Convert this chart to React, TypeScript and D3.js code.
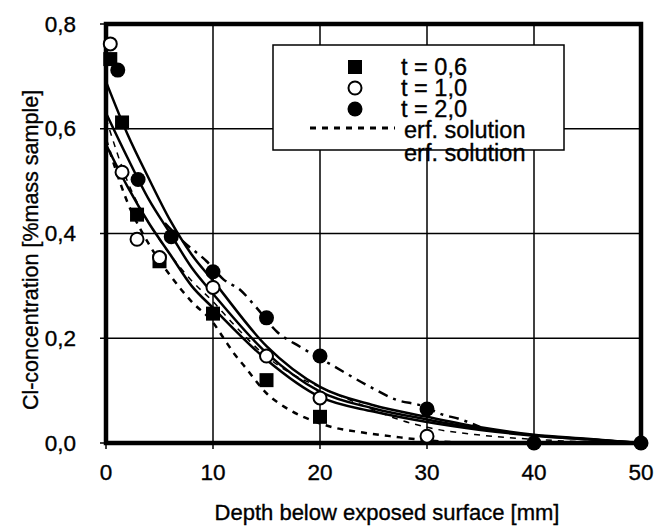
import React from "react";
import * as d3 from "d3";

// ---- data ----
const squares: [number, number][] = [
  [0.4, 0.733], [1.5, 0.612], [2.9, 0.436], [5, 0.347], [10, 0.247], [15, 0.12], [20, 0.05],
];
const openCircles: [number, number][] = [
  [0.4, 0.762], [1.5, 0.517], [2.9, 0.389], [5, 0.354], [10, 0.297], [15, 0.166], [20, 0.086], [30, 0.013],
];
const filledCircles: [number, number][] = [
  [1.1, 0.712], [3, 0.503], [6.1, 0.394], [10, 0.327], [15, 0.239], [20, 0.166], [30, 0.065], [40, 0], [50, 0],
];

// solid fitted curves
const solidTop: [number, number][] = [
  [0, 0.69], [2, 0.59], [4, 0.505], [6, 0.425], [8, 0.36], [10, 0.31], [15, 0.185], [20, 0.107],
  [25, 0.072], [30, 0.05], [35, 0.03], [40, 0.016], [45, 0.008], [50, 0],
];
const solidMid: [number, number][] = [
  [0, 0.63], [2, 0.545], [4, 0.465], [6, 0.4], [8, 0.335], [10, 0.285], [15, 0.172], [20, 0.098],
  [25, 0.066], [30, 0.045], [35, 0.027], [40, 0.015], [45, 0.007], [50, 0],
];
const solidLow: [number, number][] = [
  [0, 0.57], [2, 0.49], [4, 0.42], [6, 0.36], [8, 0.3], [10, 0.258], [15, 0.159], [20, 0.088],
  [25, 0.06], [30, 0.04], [35, 0.025], [40, 0.014], [45, 0.007], [50, 0],
];

// dashed erf solutions
const erfLow: [number, number][] = [
  [0, 0.58], [2, 0.46], [4, 0.38], [6, 0.32], [8, 0.27], [10, 0.23], [11, 0.2], [12, 0.17],
  [13, 0.145], [15, 0.095], [17, 0.065], [19, 0.045], [21, 0.031], [24, 0.02], [27, 0.012],
  [30, 0.005], [33, 0.001], [36, 0], [45, 0],
];
const erfHigh: [number, number][] = [
  [5.5, 0.42], [7.2, 0.385], [9.4, 0.347], [11, 0.312], [12.5, 0.293], [14, 0.26], [16, 0.212],
  [18.2, 0.183], [21, 0.15], [24.7, 0.107], [27.2, 0.082], [29.4, 0.072], [31.5, 0.054], [33, 0.046], [35, 0.03],
];
const erfMid: [number, number][] = [
  [0, 0.62], [2, 0.5], [4, 0.42], [6, 0.36], [8, 0.31], [10, 0.27], [12, 0.225], [15, 0.165],
  [17.2, 0.134], [20.3, 0.104], [23.5, 0.076], [27.5, 0.044], [30, 0.03], [35, 0.015], [40, 0.007], [45, 0.002],
];

const xTicks = [0, 10, 20, 30, 40, 50];
const yTicks = [0, 0.2, 0.4, 0.6, 0.8];
const legendLabels = ["t = 0,6", "t = 1,0", "t = 2,0", "erf. solution", "erf. solution"];

const W = 657;
const H = 530;
const FONT = "'Liberation Sans', Arial, sans-serif";

export default function App() {
  const x = d3.scaleLinear().domain([0, 50]).range([106, 641]);
  const y = d3.scaleLinear().domain([0, 0.8]).range([443, 24]);
  const line = d3
    .line<[number, number]>()
    .x((d) => x(d[0]))
    .y((d) => y(d[1]))
    .curve(d3.curveMonotoneX);

  const fmt = (v: number) => v.toFixed(1).replace(".", ",");
  const textStyle = { stroke: "#000", strokeWidth: 0.35 };

  return (
    <svg
      width={W}
      height={H}
      style={{ position: "absolute", left: 0, top: 0, background: "#fff" }}
      fontFamily={FONT}
    >
      <rect x={0} y={0} width={W} height={H} fill="#fff" />
      {/* grid */}
      {xTicks.slice(1, -1).map((t) => (
        <line key={"gx" + t} x1={x(t)} x2={x(t)} y1={y(0.8)} y2={y(0)} stroke="#000" strokeWidth={1.5} />
      ))}
      {yTicks.slice(1, -1).map((t) => (
        <line key={"gy" + t} x1={x(0)} x2={x(50)} y1={y(t)} y2={y(t)} stroke="#000" strokeWidth={1.5} />
      ))}

      {/* curves */}
      {[solidTop, solidMid, solidLow].map((d, i) => (
        <path key={"s" + i} d={line(d) || ""} fill="none" stroke="#000" strokeWidth={2.5} />
      ))}
      <path d={line(erfLow) || ""} fill="none" stroke="#000" strokeWidth={2.5} strokeDasharray="6 6" />
      <path d={line(erfMid) || ""} fill="none" stroke="#000" strokeWidth={1.5} strokeDasharray="6 6" />
      <path d={line(erfHigh) || ""} fill="none" stroke="#000" strokeWidth={2.5} strokeDasharray="10 6 3 6" />

      {/* frame */}
      <rect x={x(0)} y={y(0.8)} width={x(50) - x(0)} height={y(0) - y(0.8)} fill="none" stroke="#000" strokeWidth={4.5} />

      {/* ticks */}
      {yTicks.map((t) => (
        <g key={"yt" + t}>
          <line x1={x(0) - 6} x2={x(0)} y1={y(t)} y2={y(t)} stroke="#000" strokeWidth={1.5} />
          <text x={76} y={y(t)} textAnchor="end" dominantBaseline="central" fontSize={22.5} style={textStyle}>
            {fmt(t)}
          </text>
        </g>
      ))}
      {xTicks.map((t) => (
        <g key={"xt" + t}>
          <line x1={x(t)} x2={x(t)} y1={y(0)} y2={y(0) + 6} stroke="#000" strokeWidth={1.5} />
          <text x={x(t)} y={472} textAnchor="middle" dominantBaseline="central" fontSize={22.5} style={textStyle}>
            {t}
          </text>
        </g>
      ))}

      {/* markers */}
      {squares.map((d, i) => (
        <rect key={"sq" + i} x={x(d[0]) - 7} y={y(d[1]) - 7} width={14} height={14} fill="#000" />
      ))}
      {openCircles.map((d, i) => (
        <circle key={"oc" + i} cx={x(d[0])} cy={y(d[1])} r={6.5} fill="#fff" stroke="#000" strokeWidth={2} />
      ))}
      {filledCircles.map((d, i) => (
        <circle key={"fc" + i} cx={x(d[0])} cy={y(d[1])} r={7.5} fill="#000" />
      ))}

      {/* legend */}
      <rect x={273} y={45} width={291} height={105} fill="#fff" stroke="#000" strokeWidth={1.5} />
      <rect x={348} y={60} width={14} height={14} fill="#000" />
      <circle cx={355} cy={88} r={6.5} fill="#fff" stroke="#000" strokeWidth={2} />
      <circle cx={355} cy={109} r={7.5} fill="#000" />
      <line x1={310} x2={395} y1={128} y2={128} stroke="#000" strokeWidth={3} strokeDasharray="6 6" />
      {legendLabels.map((l, i) => (
        <text
          key={"lg" + i}
          x={i < 3 ? 401 : 404}
          y={[67, 88, 109, 130, 153][i]}
          dominantBaseline="central"
          fontSize={23.5}
          style={textStyle}
        >
          {l}
        </text>
      ))}

      {/* axis titles */}
      <text x={387} y={512} textAnchor="middle" dominantBaseline="central" fontSize={22} style={textStyle}>
        Depth below exposed surface [mm]
      </text>
      <text
        transform="translate(31,250) rotate(-90)"
        textAnchor="middle"
        dominantBaseline="central"
        fontSize={21.5}
        style={textStyle}
      >
        Cl-concentration [%mass sample]
      </text>
    </svg>
  );
}
